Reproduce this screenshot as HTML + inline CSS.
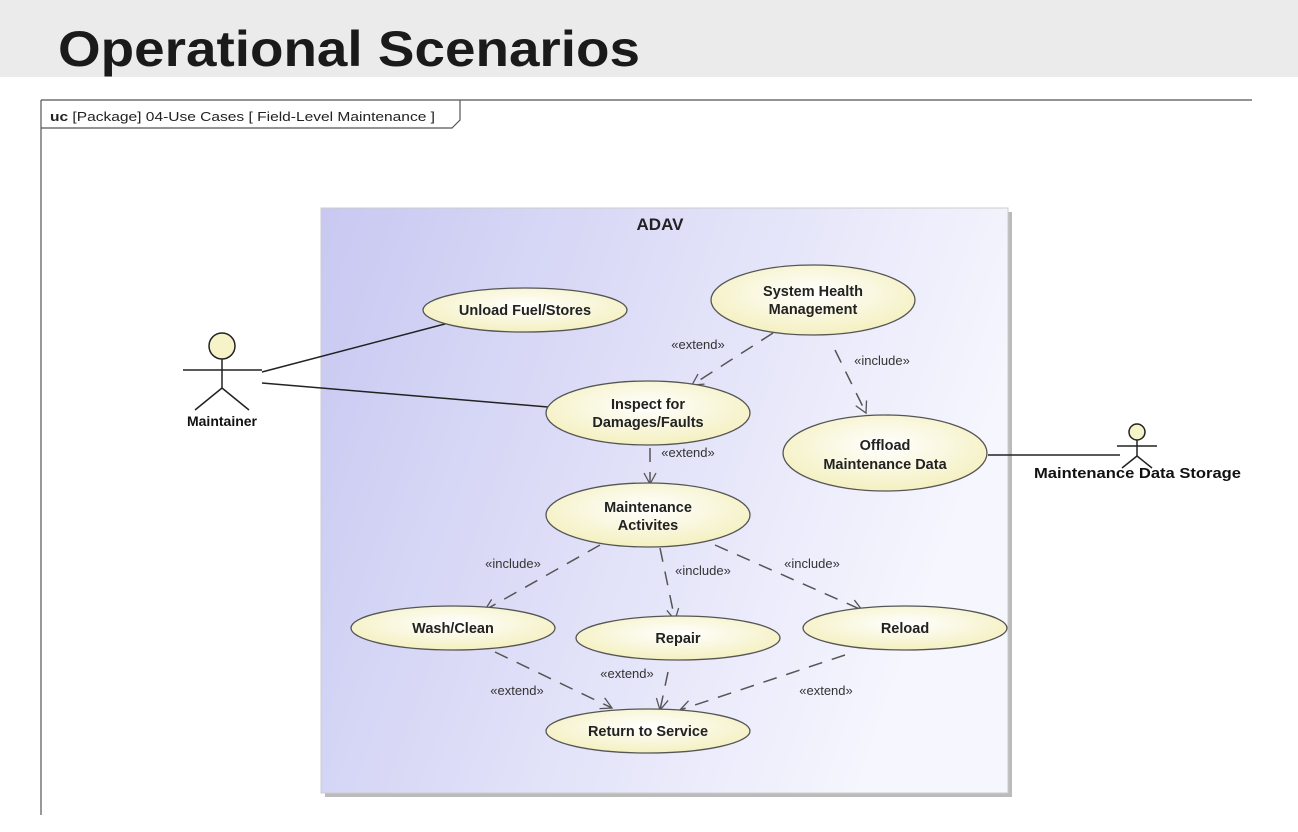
<!DOCTYPE html>
<html><head><meta charset="utf-8"><style>
body{margin:0;width:1298px;height:827px;overflow:hidden;background:#fff;font-family:"Liberation Sans",sans-serif}
</style></head><body>
<svg width="1298" height="827" xmlns="http://www.w3.org/2000/svg" font-family="Liberation Sans, sans-serif">
<defs>
<linearGradient id="bg" x1="0" y1="0" x2="1" y2="0.3"><stop offset="0" stop-color="#c8c8f2"/><stop offset="1" stop-color="#f6f6fe"/></linearGradient>
<radialGradient id="el" cx="0.5" cy="0.4" r="0.6"><stop offset="0" stop-color="#ffffff"/><stop offset="1" stop-color="#f4f0c0"/></radialGradient>
<marker id="ar" markerWidth="14" markerHeight="14" refX="12" refY="7" orient="auto" markerUnits="userSpaceOnUse"><path d="M1,1 L12,7 L1,13" fill="none" stroke="#555" stroke-width="1.3"/></marker>
</defs>
<rect x="0" y="0" width="1298" height="77" fill="#ebebeb"/>
<text x="58" y="66" font-size="50" font-weight="bold" fill="#1a1a1a" textLength="582" lengthAdjust="spacingAndGlyphs">Operational Scenarios</text>
<line x1="41" y1="100" x2="1252" y2="100" stroke="#555" stroke-width="1.2"/>
<line x1="41" y1="100" x2="41" y2="815" stroke="#555" stroke-width="1.2"/>
<path d="M41,128 L452,128 L460,120 L460,100" fill="none" stroke="#555" stroke-width="1.2"/>
<text x="50" y="121" font-size="13" fill="#222" textLength="385" lengthAdjust="spacingAndGlyphs"><tspan font-weight="bold">uc</tspan> [Package]  04-Use Cases [ Field-Level Maintenance ]</text>
<rect x="325" y="212" width="687" height="585" fill="#bbb"/>
<rect x="321" y="208" width="687" height="585" fill="url(#bg)" stroke="#ccc"/>
<text x="660" y="230" font-size="17" font-weight="bold" text-anchor="middle" fill="#222">ADAV</text>
<g stroke="#222" stroke-width="1.5" fill="none">
<line x1="262" y1="372" x2="460" y2="320"/>
<line x1="262" y1="383" x2="548" y2="407"/>
<line x1="988" y1="455" x2="1120" y2="455"/>
<circle cx="222" cy="346" r="13" fill="#f7f3c8"/>
<line x1="222" y1="359" x2="222" y2="388"/><line x1="183" y1="370" x2="262" y2="370"/>
<line x1="222" y1="388" x2="195" y2="410"/><line x1="222" y1="388" x2="249" y2="410"/>
<circle cx="1137" cy="432" r="8" fill="#f7f3c8"/>
<line x1="1137" y1="440" x2="1137" y2="456"/><line x1="1117" y1="446" x2="1157" y2="446"/>
<line x1="1137" y1="456" x2="1122" y2="468"/><line x1="1137" y1="456" x2="1152" y2="468"/>
</g>
<text x="222" y="426" font-size="14" font-weight="bold" text-anchor="middle" fill="#111">Maintainer</text>
<text x="1034" y="478" font-size="15" font-weight="bold" fill="#111" textLength="207" lengthAdjust="spacingAndGlyphs">Maintenance Data Storage</text>
<g stroke="#555" stroke-width="1.5" stroke-dasharray="14,10" fill="none" marker-end="url(#ar)">
<line x1="773" y1="333" x2="692" y2="385"/>
<line x1="835" y1="350" x2="866" y2="413"/>
<line x1="650" y1="448" x2="650" y2="484"/>
<line x1="600" y1="545" x2="485" y2="610"/>
<line x1="660" y1="548" x2="675" y2="620"/>
<line x1="715" y1="545" x2="862" y2="610"/>
<line x1="495" y1="652" x2="612" y2="708"/>
<line x1="668" y1="672" x2="660" y2="710"/>
<line x1="845" y1="655" x2="680" y2="710"/>
</g>
<g font-size="13" fill="#333" text-anchor="middle">
<text x="698" y="349">«extend»</text><text x="882" y="365">«include»</text>
<text x="688" y="457">«extend»</text><text x="513" y="568">«include»</text>
<text x="703" y="575">«include»</text><text x="812" y="568">«include»</text>
<text x="517" y="695">«extend»</text><text x="627" y="678">«extend»</text>
<text x="826" y="695">«extend»</text>
</g>
<g stroke="#555" stroke-width="1.3" fill="url(#el)">
<ellipse cx="525" cy="310" rx="102" ry="22"/>
<ellipse cx="813" cy="300" rx="102" ry="35"/>
<ellipse cx="648" cy="413" rx="102" ry="32"/>
<ellipse cx="885" cy="453" rx="102" ry="38"/>
<ellipse cx="648" cy="515" rx="102" ry="32"/>
<ellipse cx="453" cy="628" rx="102" ry="22"/>
<ellipse cx="678" cy="638" rx="102" ry="22"/>
<ellipse cx="905" cy="628" rx="102" ry="22"/>
<ellipse cx="648" cy="731" rx="102" ry="22"/>
</g>
<g font-size="14.5" font-weight="bold" fill="#222" text-anchor="middle">
<text x="525" y="315">Unload Fuel/Stores</text>
<text x="813" y="296">System Health</text><text x="813" y="314">Management</text>
<text x="648" y="409">Inspect for</text><text x="648" y="427">Damages/Faults</text>
<text x="885" y="450">Offload</text><text x="885" y="469">Maintenance Data</text>
<text x="648" y="512">Maintenance</text><text x="648" y="530">Activites</text>
<text x="453" y="633">Wash/Clean</text>
<text x="678" y="643">Repair</text>
<text x="905" y="633">Reload</text>
<text x="648" y="736">Return to Service</text>
</g>
</svg>
</body></html>
